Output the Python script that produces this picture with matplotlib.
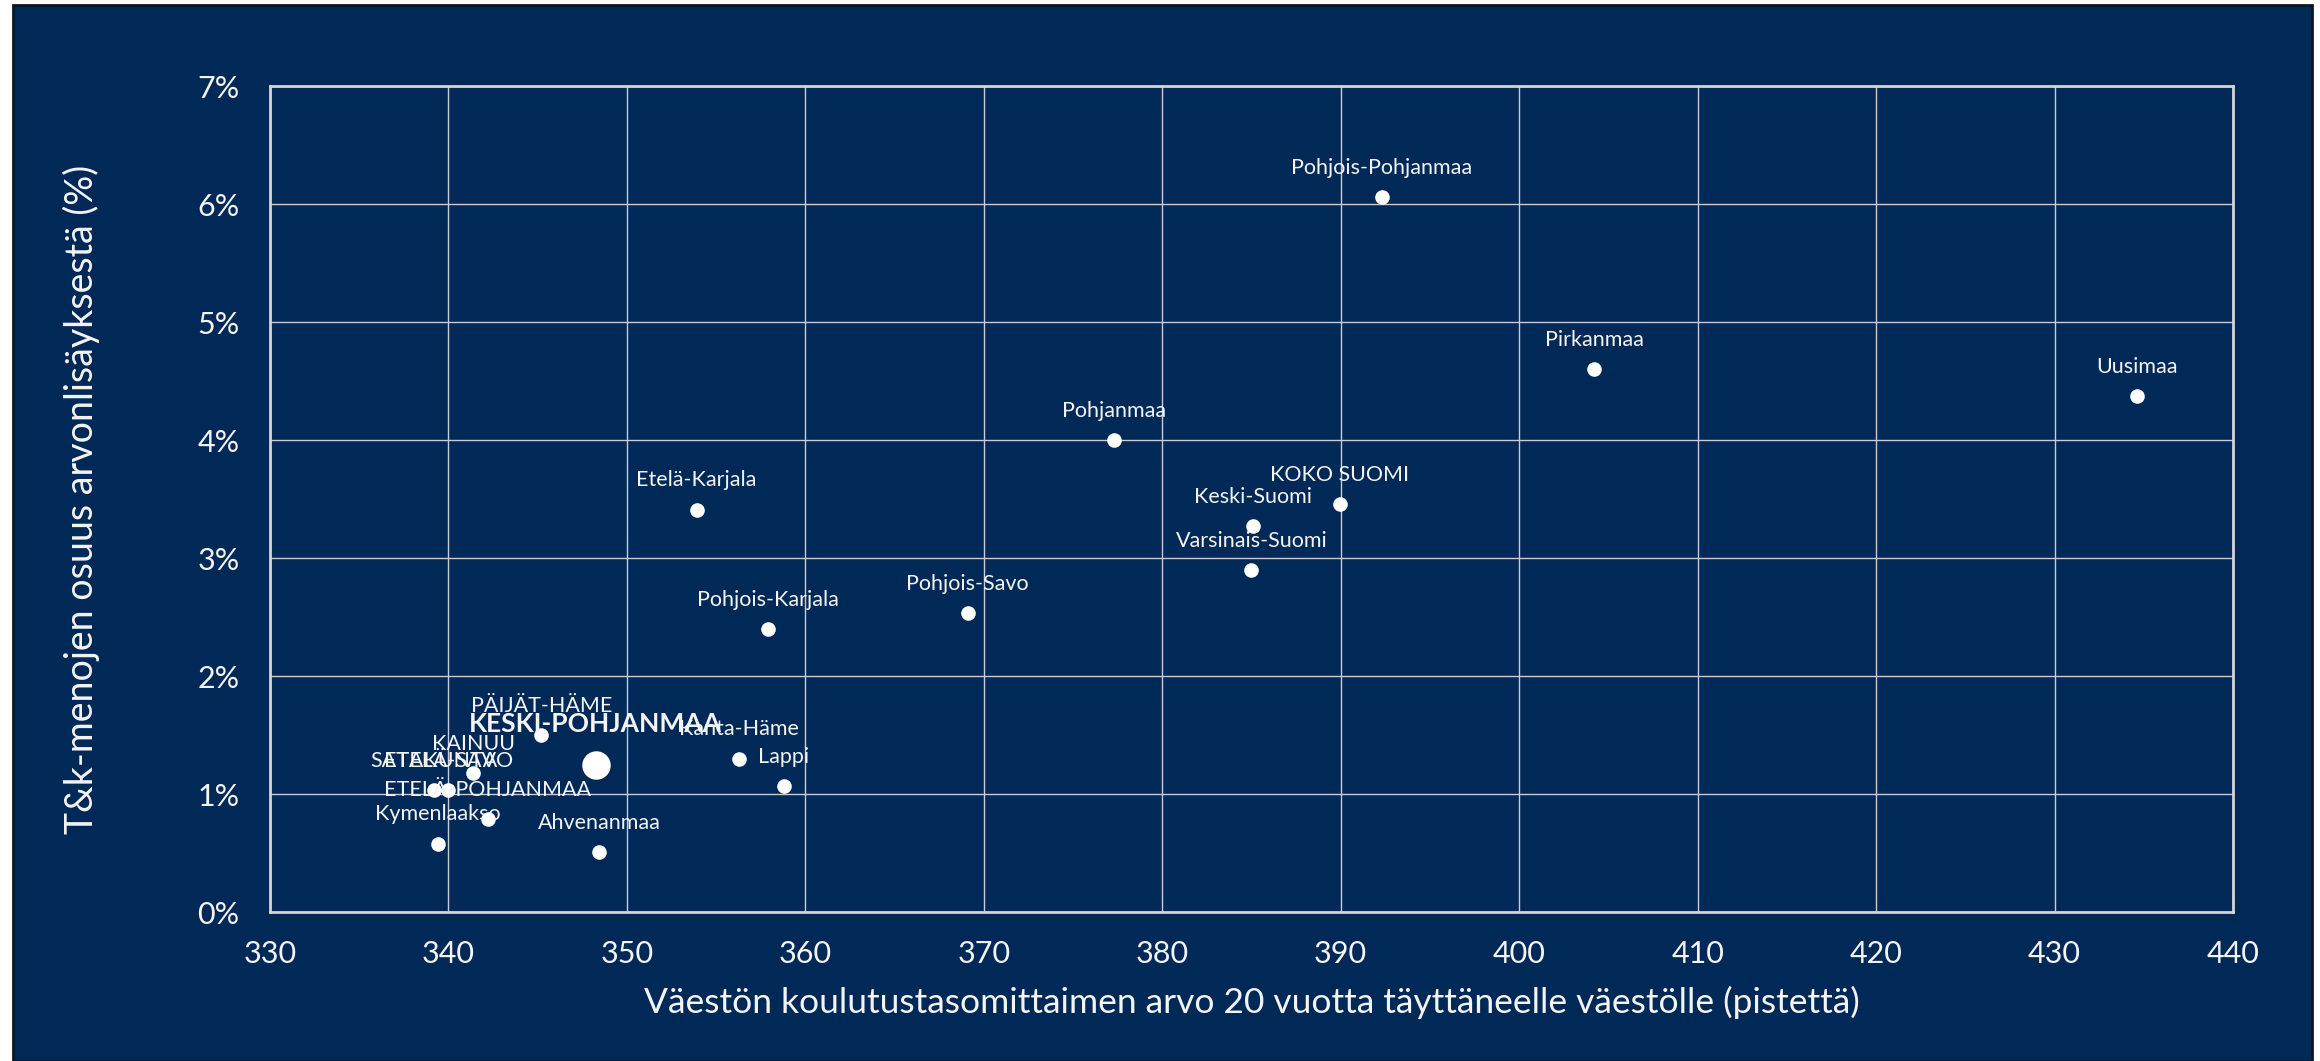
import matplotlib.pyplot as plt
from matplotlib.patches import Rectangle
from matplotlib.ticker import FuncFormatter

plt.rcParams['font.family'] = ['Lato', 'DejaVu Sans']

regions = ['Uusimaa', 'Pirkanmaa', 'Pohjois-Pohjanmaa', 'Pohjanmaa', 'KOKO SUOMI',
           'Keski-Suomi', 'Varsinais-Suomi', 'Pohjois-Savo', 'Etelä-Karjala',
           'Pohjois-Karjala', 'Kanta-Häme', 'Lappi', 'Ahvenanmaa', 'KESKI-POHJANMAA',
           'PÄIJÄT-HÄME', 'KAINUU', 'SATAKUNTA', 'ETELÄ-SAVO', 'ETELÄ-POHJANMAA',
           'Kymenlaakso']
education = [434.6, 404.2, 392.3, 377.3, 389.95, 385.1, 385.0, 369.1, 353.9,
             357.9, 356.3, 358.8, 348.45, 348.25, 345.2, 341.4, 339.2, 340.0,
             342.2, 339.4]
rd_share = [4.37, 4.60, 6.06, 4.00, 3.46, 3.27, 2.90, 2.53, 3.41,
            2.40, 1.30, 1.07, 0.51, 1.25, 1.50, 1.18, 1.03, 1.03,
            0.79, 0.58]
highlight = 'KESKI-POHJANMAA'

navy = '#002957'
white = '#f4f4f4'

fig = plt.figure(figsize=(23.2, 10.61), dpi=100, facecolor='white')
fig.patches.append(Rectangle((13 / 2320, 0), 2299 / 2320, 1056 / 1061,
                             transform=fig.transFigure, facecolor=navy,
                             edgecolor='#0b1626', linewidth=2, zorder=-5))

ax = fig.add_axes([270 / 2320, 149 / 1061, 1963 / 2320, 826 / 1061])
ax.set_facecolor(navy)

for name, x, y in zip(regions, education, rd_share):
    if name == highlight:
        ax.scatter(x, y, s=380, color='white', zorder=3)
        ax.annotate(name, (x, y), xytext=(0, 29), textcoords='offset points',
                    ha='center', va='center', color=white, fontsize=19,
                    fontweight='bold', zorder=4)
    else:
        ax.scatter(x, y, s=90, color='white', zorder=3)
        ax.annotate(name, (x, y), xytext=(0, 21), textcoords='offset points',
                    ha='center', va='center', color=white, fontsize=15.5, zorder=4)

ax.set_xlim(330, 440)
ax.set_ylim(0, 7)
ax.set_xticks(range(330, 441, 10))
ax.set_yticks(range(0, 8))
ax.yaxis.set_major_formatter(FuncFormatter(lambda v, p: f'{v:.0f}%'))
ax.grid(True, color='#c9ccd6', linewidth=1)
ax.set_axisbelow(True)
for sp in ax.spines.values():
    sp.set_color('#d4d4d4')
    sp.set_linewidth(2)
ax.tick_params(length=0, colors=white, labelsize=22)
ax.tick_params(axis='x', pad=20)
ax.tick_params(axis='y', pad=22)

ax.set_xlabel('Väestön koulutustasomittaimen arvo 20 vuotta täyttäneelle väestölle (pistettä)',
              color=white, fontsize=25.5, va='center')
ax.xaxis.set_label_coords(0.5, -90 / 826)
ax.set_ylabel('T&k-menojen osuus arvonlisäyksestä (%)', color=white, fontsize=27,
              va='center')
ax.yaxis.set_label_coords(-189 / 1963, 0.5)

fig.savefig('out.png', dpi=100, facecolor=fig.get_facecolor())
